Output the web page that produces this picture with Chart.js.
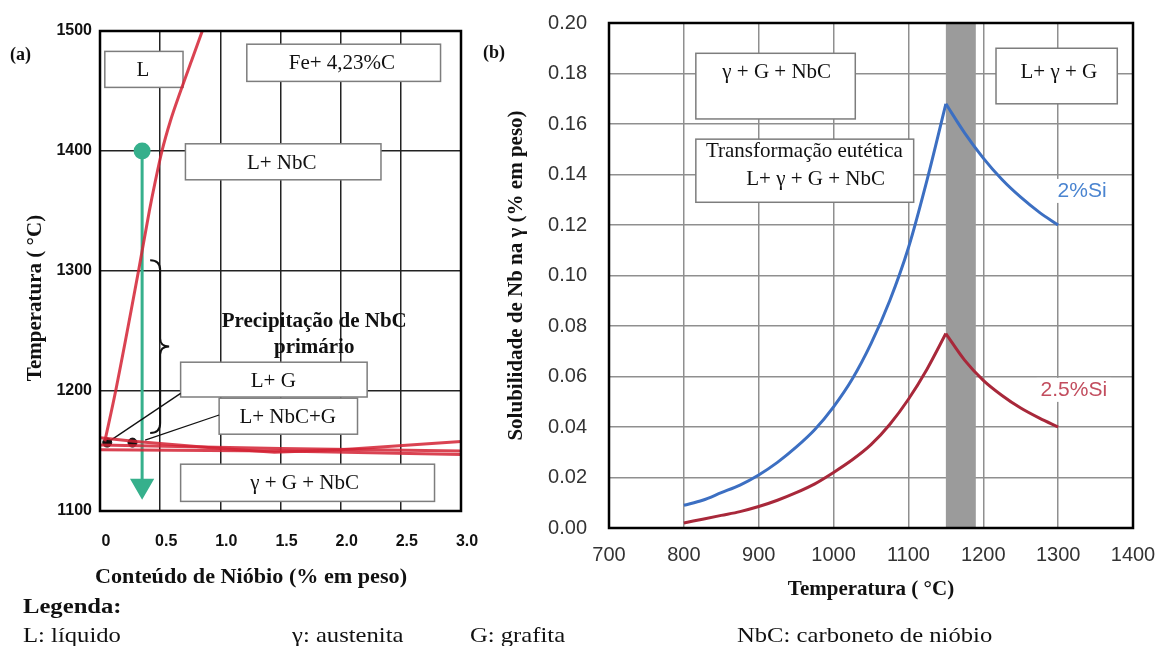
<!DOCTYPE html>
<html>
<head>
<meta charset="utf-8">
<script src="https://cdn.jsdelivr.net/npm/chart.js@4.4.1/dist/chart.umd.min.js"></script>
<style>
  body { margin: 0; background: #fff; }
  #wrap { position: relative; width: 1159px; height: 646px; overflow: hidden;
          font-family: "Liberation Serif", "DejaVu Serif", serif; color: #111; }
  canvas { position: absolute; top: 0; }
  #chartA { left: 0; }
  #chartB { left: 470px; }
  .txt { position: absolute; white-space: nowrap; line-height: 1; }
  .bold { font-weight: bold; }
  .wide { transform: scaleX(1.12); transform-origin: left center; }
</style>
</head>
<body>
<div id="wrap">
  <canvas id="chartA" width="480" height="646"></canvas>
  <canvas id="chartB" width="689" height="646"></canvas>

  <div class="txt bold" style="left:10px; top:45px; font-size:18px;">(a)</div>
  <div class="txt bold" style="left:483px; top:43px; font-size:18px;">(b)</div>

  <div class="txt bold" style="left:34px; top:298px; font-size:21px; transform:translate(-50%,-50%) rotate(-90deg);">Temperatura ( °C)</div>
  <div class="txt bold" style="left:95px; top:566px; font-size:21px; transform:scaleX(1.055); transform-origin:left center;">Conteúdo de Nióbio (% em peso)</div>

  <div class="txt bold wide" style="left:23px; top:595px; font-size:22px;">Legenda:</div>
  <div class="txt wide" style="left:23px; top:624px; font-size:22px;">L: líquido</div>
  <div class="txt wide" style="left:292px; top:624px; font-size:22px;">γ: austenita</div>
  <div class="txt wide" style="left:470px; top:624px; font-size:22px;">G: grafita</div>
  <div class="txt wide" style="left:737px; top:624px; font-size:22px;">NbC: carboneto de nióbio</div>
</div>

<script>
// ---- (a) diagrama Fe-C-Nb ----
const liqNb   = [0.04, 0.13, 0.32, 0.41, 0.46, 0.515, 0.585, 0.67, 0.76, 0.85];
const liqTemp = [1158, 1200, 1300, 1350, 1375, 1400, 1425, 1450, 1475, 1500];
const eutTopNb   = [0, 0.3, 1.0, 1.45, 2.0, 3.0];
const eutTopTemp = [1161, 1158, 1152, 1149, 1151, 1158];
const eutNb      = [0, 1.5, 3.0];
const eutMidTemp = [1155, 1152, 1150];
const eutLowTemp = [1151, 1150, 1147];
const dotNb   = [0.06, 0.27];
const dotTemp = [1157, 1157];
const coolNb   = [0.35, 0.35];
const coolTemp = [1400, 1121];

// ---- (b) solubilidade do Nb na austenita ----
const tempRise = [800, 825, 850, 875, 900, 925, 950, 975, 1000, 1025, 1050, 1075, 1100, 1125, 1150];
const si2Rise  = [0.009, 0.011, 0.014, 0.017, 0.021, 0.026, 0.032, 0.039, 0.048, 0.059, 0.073, 0.090, 0.111, 0.138, 0.168];
const si25Rise = [0.002, 0.0035, 0.005, 0.0065, 0.0085, 0.011, 0.014, 0.0175, 0.022, 0.027, 0.033, 0.041, 0.051, 0.063, 0.077];
const tempFall = [1150, 1175, 1200, 1225, 1250, 1275, 1300];
const si2Fall  = [0.168, 0.1565, 0.1465, 0.138, 0.131, 0.125, 0.120];
const si25Fall = [0.077, 0.0665, 0.0585, 0.0525, 0.0475, 0.0435, 0.040];
const eutBand  = [1150, 1190];

const pts = (xs, ys) => xs.map((v, i) => ({ x: v, y: ys[i] }));

const SERIF = '"Liberation Serif", "DejaVu Serif", serif';
const SANS = '"Liberation Sans", Arial, sans-serif';
const RED = 'rgba(212, 34, 52, 0.85)';
const GREEN = '#36b08c';
const BLUE = '#3c6fc2';
const DARKRED = '#a8283a';
const CLEAR = 'rgba(0,0,0,0)';

// caixas de texto (posicoes em unidades dos eixos)
const boxesA = [
    { x0: 0.04, x1: 0.69, y0: 1453, y1: 1483 },
    { x0: 1.22, x1: 2.83, y0: 1458, y1: 1489 },
    { x0: 0.71, x1: 2.335, y0: 1376, y1: 1406 },
    { x0: 0.67, x1: 2.22, y0: 1195, y1: 1224 },
    { x0: 0.99, x1: 2.14, y0: 1164, y1: 1194 },
    { x0: 0.67, x1: 2.78, y0: 1108, y1: 1139 }
];
const labelsA = [
    { text: 'L', x: 0.357, y: 1467.5 },
    { text: 'Fe+ 4,23%C', x: 2.01, y: 1473 },
    { text: 'L+ NbC', x: 1.51, y: 1390 },
    { text: 'Precipitação de NbC', x: 1.78, y: 1258, bold: true },
    { text: 'primário', x: 1.78, y: 1236, bold: true },
    { text: 'L+ G', x: 1.44, y: 1208 },
    { text: 'L+ NbC+G', x: 1.56, y: 1178 },
    { text: 'γ + G + NbC', x: 1.70, y: 1123 }
];
const boxesB = [
    { x0: 816, x1: 1029, y0: 0.162, y1: 0.188 },
    { x0: 1217, x1: 1379, y0: 0.168, y1: 0.190 },
    { x0: 816, x1: 1107, y0: 0.129, y1: 0.154 }
];
const labelsB = [
    { text: 'γ + G + NbC', x: 924, y: 0.1805 },
    { text: 'L+ γ + G', x: 1301, y: 0.1805 },
    { text: 'Transformação eutética', x: 961, y: 0.149 },
    { text: 'L+ γ + G + NbC', x: 976, y: 0.138 },
    { text: '2%Si', x: 1332, y: 0.1335, sans: true, color: '#4a84d0', bg: true },
    { text: '2.5%Si', x: 1321, y: 0.0547, sans: true, color: '#c24d5e', bg: true }
];

function drawBoxes(chart, boxes, labels) {
    const { ctx, scales: { x, y } } = chart;
    ctx.save();
    boxes.forEach(b => {
        const l = x.getPixelForValue(b.x0), r = x.getPixelForValue(b.x1);
        const t = y.getPixelForValue(b.y1), btm = y.getPixelForValue(b.y0);
        ctx.fillStyle = '#fff';
        ctx.fillRect(l, t, r - l, btm - t);
        ctx.strokeStyle = '#7d7d7d';
        ctx.lineWidth = 1.5;
        ctx.strokeRect(l, t, r - l, btm - t);
    });
    ctx.textAlign = 'center';
    ctx.textBaseline = 'middle';
    labels.forEach(lb => {
        const px = x.getPixelForValue(lb.x), py = y.getPixelForValue(lb.y);
        ctx.font = lb.sans ? '21px ' + SANS : (lb.bold ? 'bold ' : '') + '21px ' + SERIF;
        if (lb.bg) {
            const w = ctx.measureText(lb.text).width;
            ctx.fillStyle = '#fff';
            ctx.fillRect(px - w / 2 - 4, py - 12, w + 8, 24);
        }
        ctx.fillStyle = lb.color || '#111';
        ctx.fillText(lb.text, px, py);
    });
    ctx.restore();
}

function drawFrame(chart, width) {
    const { ctx, chartArea: a } = chart;
    ctx.save();
    ctx.strokeStyle = '#000';
    ctx.lineWidth = width;
    ctx.strokeRect(a.left, a.top, a.right - a.left, a.bottom - a.top);
    ctx.restore();
}

// chave "}" da precipitacao primaria
const brace = { x: 0.5, top: 1309, mid: 1237, bottom: 1165 };

const pluginA = {
    id: 'anotacoesA',
    beforeDatasetsDraw(chart) {
        drawBoxes(chart, boxesA, labelsA);
    },
    afterDatasetsDraw(chart) {
        const { ctx, scales: { x, y } } = chart;
        const bx = x.getPixelForValue(brace.x);
        const t = y.getPixelForValue(brace.top), m = y.getPixelForValue(brace.mid), b = y.getPixelForValue(brace.bottom);
        ctx.save();
        ctx.strokeStyle = '#111';
        ctx.lineWidth = 2;
        ctx.beginPath();
        ctx.moveTo(bx - 10, t);
        ctx.quadraticCurveTo(bx, t, bx, t + 10);
        ctx.lineTo(bx, m - 8);
        ctx.quadraticCurveTo(bx, m, bx + 9, m);
        ctx.quadraticCurveTo(bx, m, bx, m + 8);
        ctx.lineTo(bx, b - 10);
        ctx.quadraticCurveTo(bx, b, bx - 10, b);
        ctx.stroke();
        ctx.restore();
        drawFrame(chart, 2.5);
    }
};

const pluginB = {
    id: 'anotacoesB',
    beforeDatasetsDraw(chart) {
        const { ctx, chartArea: a, scales: { x } } = chart;
        const l = x.getPixelForValue(eutBand[0]), r = x.getPixelForValue(eutBand[1]);
        ctx.save();
        ctx.fillStyle = '#9b9b9b';
        ctx.fillRect(l, a.top, r - l, a.bottom - a.top);
        ctx.restore();
        drawBoxes(chart, boxesB, labelsB);
    },
    afterDatasetsDraw(chart) {
        drawFrame(chart, 2.5);
    }
};

const line = (data, color, width) => ({
    data, borderColor: color, borderWidth: width, showLine: true,
    pointRadius: 0, fill: false
});

// gap entre eixo e rotulos feito com tick invisivel (ticks.padding entra no calculo da margem)
const gap = (len, color) => ({ color, lineWidth: 1.5, drawTicks: true, tickLength: len, tickColor: CLEAR });

new Chart(document.getElementById('chartA'), {
    type: 'scatter',
    data: {
        datasets: [
            line(pts(eutNb, eutLowTemp), RED, 3),
            line(pts(eutNb, eutMidTemp), RED, 3),
            line(pts(eutTopNb, eutTopTemp), RED, 3),
            Object.assign(line(pts(liqNb, liqTemp), RED, 3), { cubicInterpolationMode: 'monotone' }),
            line(pts([dotNb[0], 0.67], [dotTemp[0], 1198]), '#111', 1.3),
            line(pts([0.375, 0.99], [1159, 1180]), '#111', 1.3),
            {
                data: pts(coolNb, coolTemp), showLine: true, borderColor: GREEN, borderWidth: 3,
                backgroundColor: GREEN, pointBorderColor: GREEN,
                pointStyle: ['circle', 'triangle'], pointRadius: [7, 11], rotation: [0, 180]
            },
            { data: pts(dotNb, dotTemp), backgroundColor: '#111', borderColor: '#111', pointRadius: 4.5 }
        ]
    },
    options: {
        responsive: false,
        animation: false,
        layout: { padding: { left: 0, top: 31, right: 19, bottom: 0 } },
        plugins: { legend: { display: false }, tooltip: { enabled: false } },
        scales: {
            x: {
                type: 'linear', min: 0, max: 3, afterFit: s => { s.height = 135; },
                ticks: {
                    stepSize: 0.5, padding: 0, labelOffset: 6, color: '#111',
                    font: { family: SANS, size: 16, weight: 'bold' },
                    callback: v => v === 0 ? '0' : v.toFixed(1)
                },
                grid: gap(21, '#222'),
                border: { display: false }
            },
            y: {
                min: 1100, max: 1500, afterFit: s => { s.width = 100; },
                ticks: {
                    stepSize: 100, padding: 0, color: '#111',
                    font: { family: SANS, size: 16, weight: 'bold' },
                    callback: v => String(v)
                },
                grid: gap(8, '#222'),
                border: { display: false }
            }
        }
    },
    plugins: [pluginA]
});

const curve = (xs, ys, color) => ({
    data: pts(xs, ys), borderColor: color, borderWidth: 3, showLine: true,
    pointRadius: 0, cubicInterpolationMode: 'monotone'
});

new Chart(document.getElementById('chartB'), {
    type: 'scatter',
    data: {
        datasets: [
            curve(tempRise, si2Rise, BLUE),
            curve(tempFall, si2Fall, BLUE),
            curve(tempRise, si25Rise, DARKRED),
            curve(tempFall, si25Fall, DARKRED)
        ]
    },
    options: {
        responsive: false,
        animation: false,
        layout: { padding: { left: 30, top: 23, right: 26, bottom: 40 } },
        plugins: { legend: { display: false }, tooltip: { enabled: false } },
        scales: {
            x: {
                type: 'linear', min: 700, max: 1400, afterFit: s => { s.height = 78; },
                ticks: {
                    stepSize: 100, padding: 0, color: '#333',
                    font: { family: SANS, size: 20 },
                    callback: v => String(v)
                },
                grid: gap(15, '#8f8f8f'),
                border: { display: false },
                title: {
                    display: true, text: 'Temperatura ( °C)', color: '#111',
                    font: { family: SERIF, size: 21, weight: 'bold' }
                }
            },
            y: {
                min: 0, max: 0.2, afterFit: s => { s.width = 109; },
                ticks: {
                    stepSize: 0.02, padding: 0, color: '#333',
                    font: { family: SANS, size: 20 },
                    callback: v => v.toFixed(2)
                },
                grid: gap(22, '#8f8f8f'),
                border: { display: false },
                title: {
                    display: true, text: 'Solubilidade de Nb na γ (% em peso)', color: '#111',
                    font: { family: SERIF, size: 21, weight: 'bold' }
                }
            }
        }
    },
    plugins: [pluginB]
});
</script>
</body>
</html>
